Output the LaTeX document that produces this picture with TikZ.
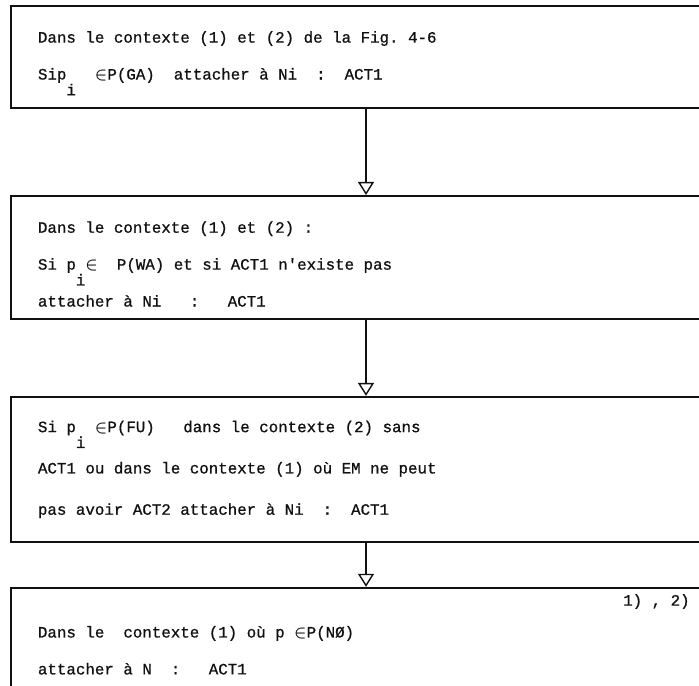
\documentclass[tikz,border=0pt]{standalone}
\usepackage{amsmath}
\usepackage{fontspec}
\setmonofont{Liberation Mono}[FakeBold=0.8]
\usetikzlibrary{arrows.meta, positioning}
\definecolor{FCink}{HTML}{111111}
\newcommand{\sousi}{\raisebox{-9pt}[0pt][0pt]{i}}
\newcommand{\appart}{\ensuremath{\boldsymbol{\in}}}
\newcommand{\fcfont}[1]{\ttfamily\fontsize{9}{#1}\selectfont\spaceskip 0.6em\xspaceskip 0.6em\relax}
\tikzset{
  fcbox/.style={rectangle, draw=FCink, line width=1.1pt, fill=white, text=FCink, align=flush left,
    text width=13.2cm, inner xsep=0.54cm, inner ysep=0pt, font={\fcfont{21}}},
  fcarr/.style={-{Triangle[open, length=2.6mm, width=3.2mm]}, line width=0.8pt, draw=FCink},
  fcnote/.style={font={\fcfont{11}}, text=FCink, inner sep=0pt},
}
\begin{document}
\begin{tikzpicture}[node distance=1.72cm]
        \useasboundingbox (0,0) rectangle (13.98,-13.70);
        \coordinate (axe) at (7.32,0);
        \node[fcbox, anchor=north west, minimum height=2.04cm] (ga) at (0.2,-0.1)
          {Dans le contexte (1) et (2) de la Fig. 4-6\\
           Sip\sousi\ \ \appart P(GA)\ \ attacher à Ni\ \ :\ \ ACT1};
        \node[fcbox, below=1.72cm of ga.south west, anchor=north west, minimum height=2.46cm] (wa)
          {\rule{0pt}{14pt}Dans le contexte (1) et (2) :\\
           Si p\sousi\appart\ \ P(WA) et si ACT1 n'existe pas\\
           attacher à Ni\ \ \ :\ \ \ ACT1};
        \node[fcbox, below=1.52cm of wa.south west, anchor=north west, minimum height=2.9cm,
          font={\fcfont{23.5}}] (fu)
          {Si p\sousi\ \appart P(FU)\ \ \ dans le contexte (2) sans\\
           ACT1 ou dans le contexte (1) où EM ne peut\\
           pas avoir ACT2 attacher à Ni\ \ :\ \ ACT1};
        \node[fcbox, below=0.88cm of fu.south west, anchor=north west, minimum height=2.5cm] (nz)
          {Dans le\ \ contexte (1) où p \appart P(NØ)\\
           attacher à N\ \ :\ \ \ ACT1};
        \node[fcnote, anchor=north east] (renvoi) at ([xshift=13.6cm,yshift=-0.14cm]nz.north west) {1)\ ,\ 2)};
        \draw[fcarr](ga.south -| axe)--(wa.north -| axe);
        \draw[fcarr](wa.south -| axe)--(fu.north -| axe);
        \draw[fcarr](fu.south -| axe)--(nz.north -| axe);
      \end{tikzpicture}
\end{document}
